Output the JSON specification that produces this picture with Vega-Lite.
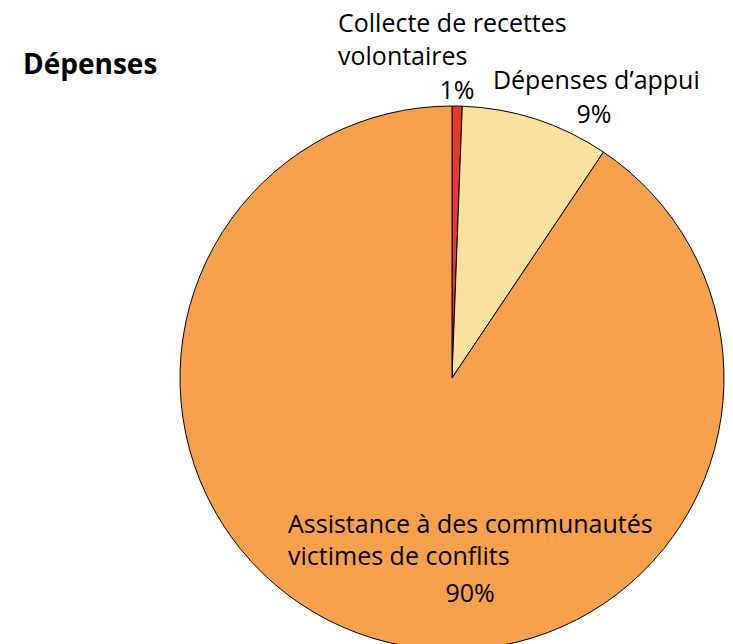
{
  "$schema": "https://vega.github.io/schema/vega-lite/v6.json",
  "autosize": "none",
  "width": 544,
  "height": 544,
  "padding": {"left": 180, "top": 106, "right": 9, "bottom": -6},
  "background": "white",
  "config": {"view": {"stroke": null}},
  "title": {
    "text": "Dépenses",
    "anchor": "start",
    "font": "Open Sans",
    "fontSize": 28,
    "fontWeight": "bold",
    "color": "black",
    "baseline": "alphabetic",
    "offset": 4,
    "dx": -155,
    "dy": 94
  },
  "data": {
    "values": [
      {"rank": 1, "category": "Collecte de recettes volontaires", "label": "Collecte de recettes\nvolontaires", "pct": "1%", "value": 0.6},
      {"rank": 2, "category": "Dépenses d’appui", "label": "Dépenses d’appui", "pct": "9%", "value": 8.8},
      {"rank": 3, "category": "Assistance à des communautés victimes de conflits", "label": "Assistance à des communautés\nvictimes de conflits", "pct": "90%", "value": 90.6}
    ]
  },
  "transform": [
    {"stack": "value", "groupby": [], "sort": [{"field": "rank", "order": "ascending"}], "as": ["v0", "v1"]}
  ],
  "layer": [
    {
      "mark": {"type": "arc", "stroke": "black", "strokeWidth": 1},
      "encoding": {
        "theta": {"field": "v0", "type": "quantitative", "scale": {"domain": [0, 100]}},
        "theta2": {"field": "v1"},
        "color": {
          "field": "category",
          "type": "nominal",
          "scale": {
            "domain": ["Collecte de recettes volontaires", "Dépenses d’appui", "Assistance à des communautés victimes de conflits"],
            "range": ["#E63A27", "#F8E29E", "#F7A14C"]
          },
          "legend": null
        }
      }
    },
    {
      "transform": [{"filter": "datum.rank === 1"}],
      "mark": {"type": "text", "font": "Open Sans", "fontSize": 25, "color": "black", "align": "left", "baseline": "alphabetic", "lineBreak": "\n", "lineHeight": 32.7, "radius": 346, "dx": -114},
      "encoding": {
        "theta": {"field": "v0", "type": "quantitative"},
        "text": {"field": "label", "type": "nominal"}
      }
    },
    {
      "transform": [{"filter": "datum.rank === 1"}],
      "mark": {"type": "text", "font": "Open Sans", "fontSize": 25, "color": "black", "align": "center", "baseline": "alphabetic", "radius": 279, "dx": 5},
      "encoding": {
        "theta": {"field": "v0", "type": "quantitative"},
        "text": {"field": "pct", "type": "nominal"}
      }
    },
    {
      "transform": [{"filter": "datum.rank === 2"}],
      "mark": {"type": "text", "font": "Open Sans", "fontSize": 25, "color": "black", "align": "left", "baseline": "alphabetic", "radius": 289, "dx": 30},
      "encoding": {
        "theta": {"field": "v0", "type": "quantitative"},
        "text": {"field": "label", "type": "nominal"}
      }
    },
    {
      "transform": [{"filter": "datum.rank === 2"}],
      "mark": {"type": "text", "font": "Open Sans", "fontSize": 25, "color": "black", "align": "center", "baseline": "alphabetic", "radius": 307, "dx": -29},
      "encoding": {
        "theta": {"field": "v1", "type": "quantitative"},
        "text": {"field": "pct", "type": "nominal"}
      }
    },
    {
      "transform": [{"filter": "datum.rank === 3"}],
      "mark": {"type": "text", "font": "Open Sans", "fontSize": 25, "color": "black", "align": "left", "baseline": "alphabetic", "lineBreak": "\n", "lineHeight": 32.4, "dx": -164, "dy": 155},
      "encoding": {
        "text": {"field": "label", "type": "nominal"}
      }
    },
    {
      "transform": [{"filter": "datum.rank === 3"}],
      "mark": {"type": "text", "font": "Open Sans", "fontSize": 25, "color": "black", "align": "center", "baseline": "alphabetic", "dx": 18, "dy": 224},
      "encoding": {
        "text": {"field": "pct", "type": "nominal"}
      }
    }
  ]
}
